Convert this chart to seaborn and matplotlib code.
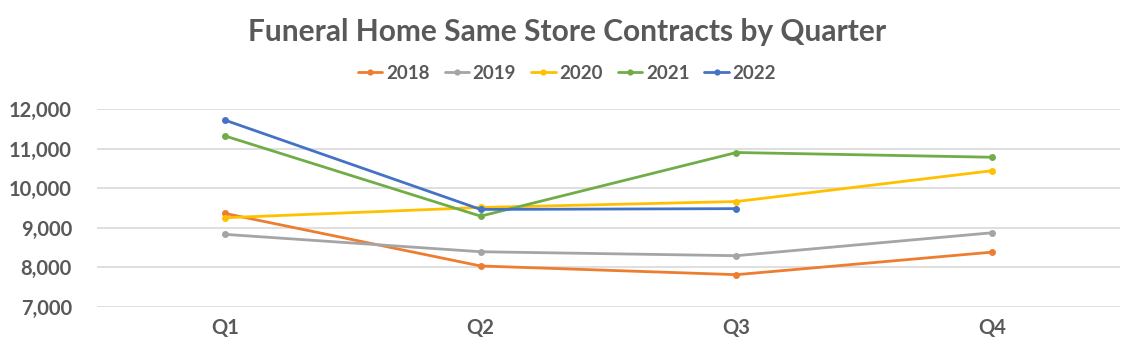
import numpy as np
import pandas as pd
import seaborn as sns
import matplotlib.pyplot as plt
from matplotlib.ticker import FuncFormatter

quarters = ['Q1', 'Q2', 'Q3', 'Q4']
years = ['2018', '2019', '2020', '2021', '2022']
v2018 = [9360, 8030, 7810, 8380]
v2019 = [8830, 8390, 8290, 8870]
v2020 = [9250, 9510, 9660, 10440]
v2021 = [11320, 9290, 10900, 10780]
v2022 = [11720, 9460, 9480]
colors = ['#ED7D31', '#A5A5A5', '#FFC000', '#70AD47', '#4472C4']

rows = []
for yr, vals in zip(years, [v2018, v2019, v2020, v2021, v2022]):
    for q, v in zip(quarters, vals):
        rows.append({'Quarter': q, 'Year': yr, 'Contracts': v})
df = pd.DataFrame(rows)

sns.set_theme(style='white')
plt.rcParams['font.family'] = ['Lato', 'DejaVu Sans']
text_col = '#595959'

fig = plt.figure(figsize=(11.34, 3.58), dpi=100)
ax = fig.add_axes([0.0855, 0.1433, 0.9022, 0.5522])

sns.lineplot(data=df, x='Quarter', y='Contracts', hue='Year', hue_order=years,
             palette=colors, marker='o', markersize=5, markeredgewidth=0,
             linewidth=2.0, ax=ax, sort=False)

ax.set_xlim(-0.5, 3.5)
ax.set_ylim(7000, 12000)
ax.set_yticks(np.arange(7000, 12001, 1000))
ax.yaxis.set_major_formatter(FuncFormatter(lambda v, p: f'{int(v):,}'))
ax.grid(axis='y', color='#D9D9D9', linewidth=1.2)
ax.set_axisbelow(True)
for s in ax.spines.values():
    s.set_visible(False)
ax.set_xlabel('')
ax.set_ylabel('')
ax.tick_params(axis='both', length=0, labelsize=14.5, labelcolor=text_col)
ax.tick_params(axis='y', pad=18)
ax.tick_params(axis='x', pad=8)
for lab in ax.get_xticklabels() + ax.get_yticklabels():
    lab.set_fontweight('bold')

handles, labels = ax.get_legend_handles_labels()
ax.legend(handles, labels, loc='center', bbox_to_anchor=(0.5, 0.796), bbox_transform=fig.transFigure,
          ncol=5, frameon=False, prop={'size': 13.5, 'weight': 'bold'}, labelcolor=text_col,
          handlelength=1.3, handletextpad=0.2, columnspacing=0.8, markerscale=0.9)

fig.text(0.5, 0.91, 'Funeral Home Same Store Contracts by Quarter', ha='center', va='center',
         fontsize=21.5, fontweight='bold', color=text_col)

fig.savefig('out.png', dpi=100)
